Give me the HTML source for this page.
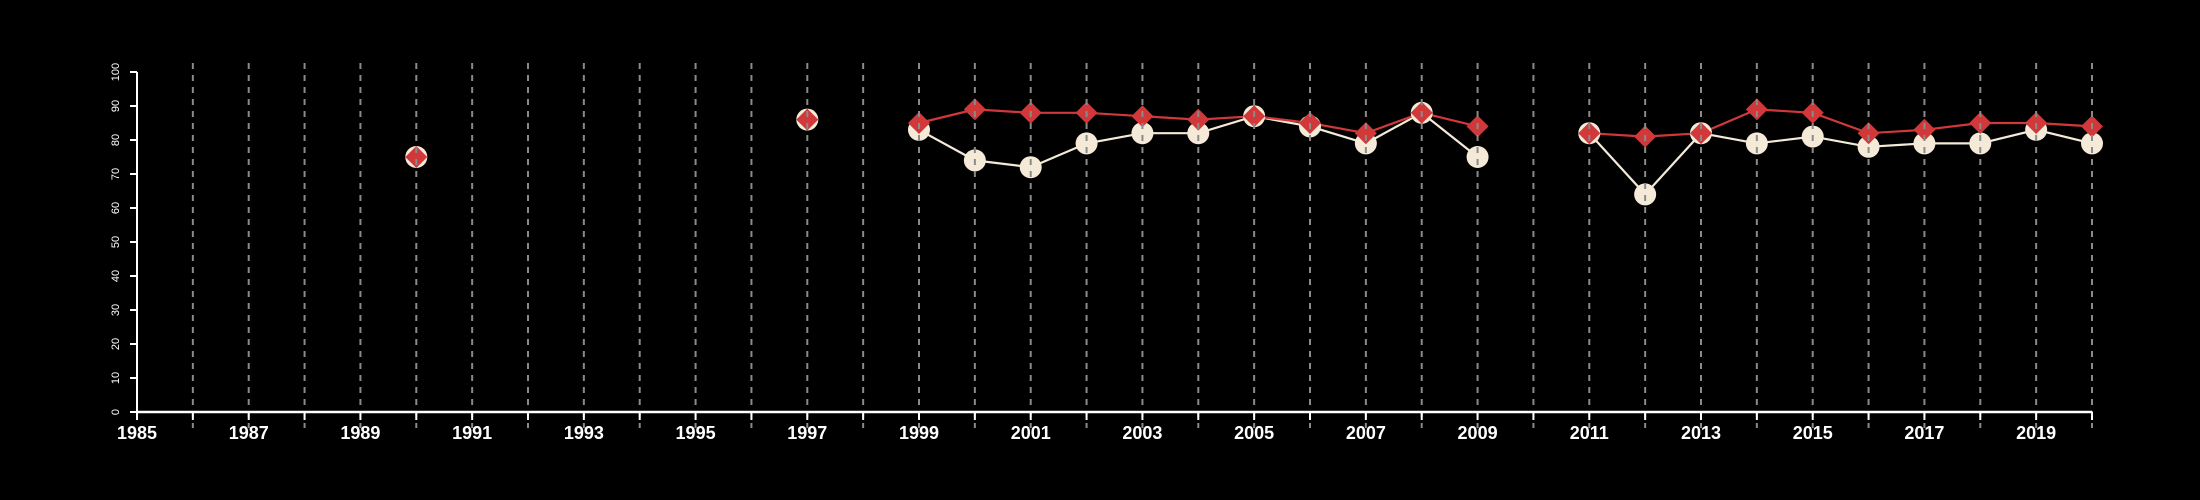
<!DOCTYPE html>
<html><head><meta charset="utf-8"><style>
html,body{margin:0;padding:0;background:#000;}
svg{display:block;font-family:"Liberation Sans",Arial,sans-serif;}
</style></head><body>
<svg id="chart" width="2200" height="500" viewBox="0 0 2200 500">
<rect width="2200" height="500" fill="#000"/>
<g id="series"></g><g id="grid"></g><g id="axes"></g>
</svg>
<script>
const years = [1990,1997,1999,2000,2001,2002,2003,2004,2005,2006,2007,2008,2009,2011,2012,2013,2014,2015,2016,2017,2018,2019,2020];
const seriesA = [75,86,83,74,72,79,82,82,87,84,79,88,75,82,64,82,79,81,78,79,79,83,79];
const seriesB = [75,86,85,89,88,88,87,86,87,85,82,88,84,82,81,82,89,88,82,83,85,85,84];
const yTicks = [0,10,20,30,40,50,60,70,80,90,100];
const xLabels = [1985,1987,1989,1991,1993,1995,1997,1999,2001,2003,2005,2007,2009,2011,2013,2015,2017,2019];
const xMin=1985,xMax=2020;
const X0=137,X1=2092,Y0=412,Y1=72;
const sx=v=>X0+(v-xMin)*(X1-X0)/(xMax-xMin);
const sy=v=>Y0-(v-0)*(Y0-Y1)/100;
const NS="http://www.w3.org/2000/svg";
function mk(tag,attrs,parent){const e=document.createElementNS(NS,tag);for(const k in attrs)e.setAttribute(k,attrs[k]);parent.appendChild(e);return e;}
const gS=document.getElementById('series'),gG=document.getElementById('grid'),gA=document.getElementById('axes');
// lines: connect consecutive years
function drawLines(vals,color,name){
  let seg=[];
  const flush=()=>{if(seg.length>1){const p=mk('polyline',{points:seg.join(' '),fill:'none',stroke:color,'stroke-width':2.2},gS);
  
  }seg=[];};
  for(let i=0;i<years.length;i++){
    if(i>0&&years[i]-years[i-1]!==1)flush();
    seg.push(sx(years[i])+','+sy(vals[i]));
  }
  flush();
}
drawLines(seriesA,'#f5ead8','line-series-a');
drawLines(seriesB,'#d0383a','line-series-b');
for(let i=0;i<years.length;i++){
  const c=mk('circle',{cx:sx(years[i]),cy:sy(seriesA[i]),r:11,fill:'#f5ead8'},gS);
  
  
}
for(let i=0;i<years.length;i++){
  const x=sx(years[i]),y=sy(seriesB[i]),d=11;
  const p=mk('polygon',{points:`${x},${y-d} ${x+d},${y} ${x},${y+d} ${x-d},${y}`,fill:'#d0383a'},gS);
  
  
}
// gridlines
for(let yr=xMin+1;yr<=xMax;yr++){
  const l=mk('line',{x1:sx(yr),x2:sx(yr),y1:63,y2:428,stroke:'#8a8a8a','stroke-width':2,'stroke-dasharray':'6,6'},gG);
  
  
}
// axes
let a=mk('line',{x1:X0,x2:X1,y1:Y0,y2:Y0,stroke:'#fff','stroke-width':2.5},gA);


a=mk('line',{x1:X0,x2:X0,y1:Y0,y2:Y1,stroke:'#fff','stroke-width':2},gA);


for(let yr=xMin;yr<=xMax;yr++){
  const t=mk('line',{x1:sx(yr),x2:sx(yr),y1:Y0,y2:Y0+8,stroke:'#fff','stroke-width':2},gA);
  
  
}
xLabels.forEach(v=>{
  const t=mk('text',{x:sx(v),y:Y0+27,'text-anchor':'middle',fill:'#fff','font-size':18,'font-weight':'bold'},gA);
  t.textContent=v;
  
  
});
yTicks.forEach(v=>{
  const t=mk('line',{x1:X0-7,x2:X0,y1:sy(v),y2:sy(v),stroke:'#fff','stroke-width':2},gA);
  
  
  const x=119,y=sy(v);
  const l=mk('text',{x:x,y:y,transform:`rotate(-90 ${x} ${y})`,'text-anchor':'middle',fill:'#fff','font-size':11},gA);
  l.textContent=v;
  
  
});
</script>
</body></html>
